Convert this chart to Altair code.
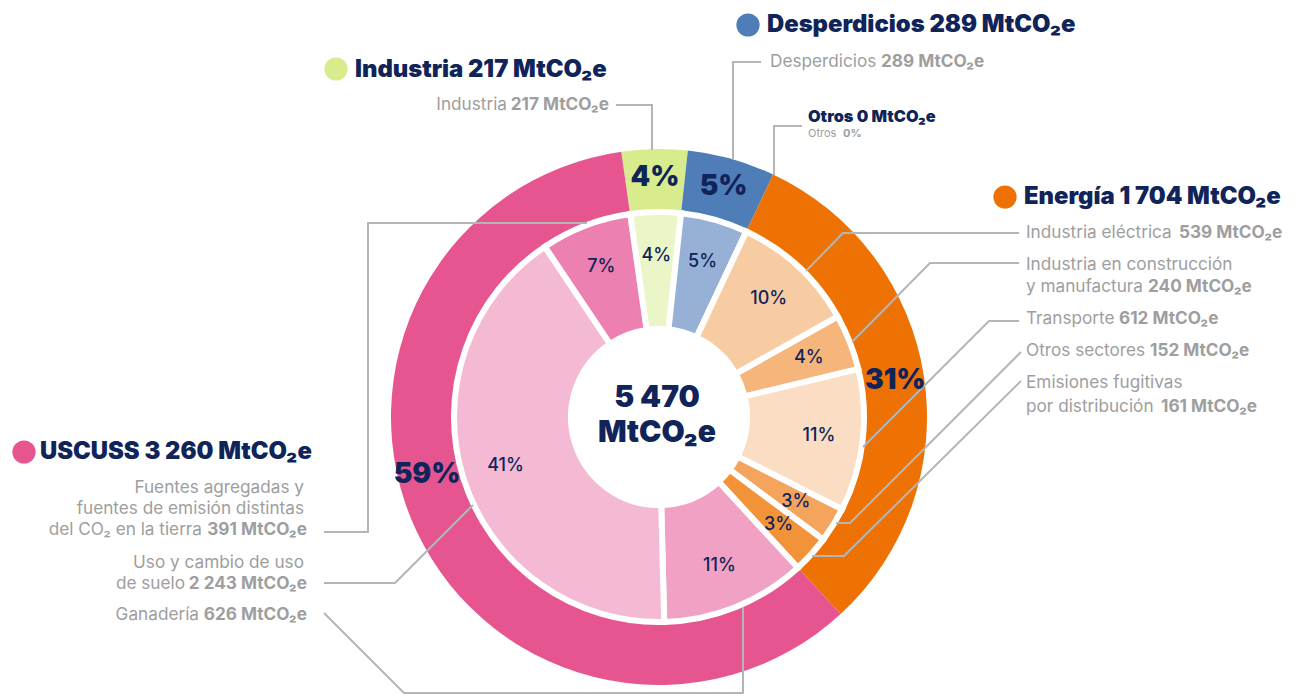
import math
import altair as alt
import pandas as pd

# ---------------- data ----------------
sectors = ["Industria", "Desperdicios", "Otros", "Energía", "USCUSS"]
sector_values = [217, 289, 0, 1704, 3260]
sector_pct = ["4%", "5%", "", "31%", "59%"]
sector_colors = ["#D8EC8E", "#4F7DB8", "#2E3A87", "#EE7203", "#E65590"]

subsectors = [
    "Industria", "Desperdicios", "Industria eléctrica",
    "Industria en construcción y manufactura", "Transporte", "Otros sectores",
    "Emisiones fugitivas por distribución", "Ganadería",
    "Uso y cambio de uso de suelo",
    "Fuentes agregadas y fuentes de emisión distintas del CO₂ en la tierra",
]
sub_values = [217, 289, 539, 240, 612, 152, 161, 626, 2243, 391]
sub_pct = ["4%", "5%", "10%", "4%", "11%", "3%", "3%", "11%", "41%", "7%"]
sub_colors = ["#EAF5C8", "#96B0D6", "#F8CCA3", "#F5B57B", "#FADDC2",
              "#F4A45C", "#F29339", "#F1A2C4", "#F5BAD3", "#EC80B0"]

total_label = ["5 470", "MtCO₂e"]

headlines = ["Industria 217 MtCO₂e", "Desperdicios 289 MtCO₂e",
             "Energía 1 704 MtCO₂e", "USCUSS 3 260 MtCO₂e"]
headline_colors = ["#D8EC8E", "#4F7DB8", "#EE7203", "#E65590"]

# label pieces (normal part / bold part)
left_normal = ["Desperdicios", "Industria eléctrica", "Industria en construcción",
               "y manufactura", "Transporte", "Otros sectores",
               "Emisiones fugitivas", "por distribución"]
left_bold = ["289 MtCO₂e", "539 MtCO₂e", "240 MtCO₂e", "612 MtCO₂e",
             "152 MtCO₂e", "161 MtCO₂e"]
right_normal = ["Industria", "Fuentes agregadas y", "fuentes de emisión distintas",
                "del CO₂ en la tierra", "Uso y cambio de uso", "de suelo", "Ganadería"]
right_bold = ["217 MtCO₂e", "391 MtCO₂e", "2 243 MtCO₂e", "626 MtCO₂e"]
otros_title = "Otros 0 MtCO₂e"
otros_sub = ["Otros", "0%"]

# ---------------- layout (page pixels) ----------------
W, H = 1278, 688
CX, CY = 659 - 8, 417 - 8
TOTAL = sum(sector_values)
START = math.radians(-8.1)
NAVY = "#10245A"
GRAY = "#9E9E9E"
LINE = "#B5B5B5"
FONT = "Inter"
LABEL_SIZE = 17.2

headline_xy = [(355, 70), (767, 25), (1024, 197), (40, 452)]
circle_xy = [(336, 69), (748, 25), (1005, 197), (24, 452)]
left_normal_xy = [(770, 62), (1026, 233), (1026, 265), (1026, 287), (1026, 319),
                  (1026, 351), (1026, 383), (1026, 407)]
left_bold_xy = [(881, 62), (1179, 233), (1148, 287), (1119, 319), (1150, 351), (1161, 407)]
right_normal_xy = [(507, 105), (304, 488), (304, 509), (202, 530), (304, 563),
                   (185, 584), (199, 615)]
right_bold_xy = [(609, 105), (307, 530), (307, 584), (307, 615)]
leaders = [
    [(616, 105), (652, 105), (652, 150)],
    [(761, 62), (733, 62), (733, 159)],
    [(802, 126), (774, 126), (774, 175)],
    [(1019, 233), (843, 233), (806, 271)],
    [(1019, 263), (930, 263), (852, 342)],
    [(1019, 321), (989, 321), (863, 447)],
    [(1021, 352), (850, 523), (836, 523)],
    [(1021, 381), (844, 556), (812, 556)],
    [(324, 613), (404, 693), (743, 693), (743, 607)],
    [(324, 583), (395, 583), (473, 505)],
    [(324, 532), (368, 532), (368, 223), (587, 223)],
]
outer_label_shift = {"USCUSS": 173}

# ---------------- tables ----------------
def ring(names, values, pcts, colors, shift=None):
    rows, acc = [], 0
    for n, v, p, c in zip(names, values, pcts, colors):
        mid = acc + v / 2
        rows.append(dict(name=n, value=v, start=acc, end=acc + v, mid=mid,
                         label_at=mid + (shift or {}).get(n, 0), pct=p, color=c))
        acc += v
    return pd.DataFrame(rows)

outer_df = ring(sectors, sector_values, sector_pct, sector_colors, outer_label_shift)
outer_df = outer_df[outer_df.value > 0]
inner_df = ring(subsectors, sub_values, sub_pct, sub_colors)

def pts(texts, xy):
    return pd.DataFrame([dict(t=t, x=p[0], y=p[1]) for t, p in zip(texts, xy)])

lead_rows = []
for i, poly in enumerate(leaders):
    for j, (x, y) in enumerate(poly):
        lead_rows.append(dict(id=i, seq=j, x=x, y=y))
lead_df = pd.DataFrame(lead_rows)

theta_scale = alt.Scale(domain=[0, TOTAL], range=[START, START + 2 * math.pi])
xs = alt.Scale(domain=[8, 8 + W], range=[0, W], nice=False, zero=False)
ys = alt.Scale(domain=[8, 8 + H], range=[0, H], nice=False, zero=False)
X = alt.X("x:Q", scale=xs, axis=None)
Y = alt.Y("y:Q", scale=ys, axis=None)

outer = alt.Chart(outer_df).mark_arc(radius=268, radius2=206).encode(
    theta=alt.Theta("start:Q", scale=theta_scale, stack=False),
    theta2="end:Q",
    color=alt.Color("color:N", scale=None),
    x=alt.value(CX), y=alt.value(CY),
)
inner = alt.Chart(inner_df).mark_arc(radius=205, radius2=88, stroke="white",
                                     strokeWidth=6).encode(
    theta=alt.Theta("start:Q", scale=theta_scale, stack=False),
    theta2="end:Q",
    color=alt.Color("color:N", scale=None),
    x=alt.value(CX), y=alt.value(CY),
)
outer_lbl = alt.Chart(outer_df).mark_text(
    radius=239, font=FONT, fontSize=28, fontWeight=900, color=NAVY, baseline="middle"
).encode(
    theta=alt.Theta("label_at:Q", scale=theta_scale, stack=False),
    text="pct:N", x=alt.value(CX), y=alt.value(CY),
)
inner_lbl = alt.Chart(inner_df).mark_text(
    radius=161, font=FONT, fontSize=18, fontWeight=500, color=NAVY, baseline="middle"
).encode(
    theta=alt.Theta("mid:Q", scale=theta_scale, stack=False),
    text="pct:N", x=alt.value(CX), y=alt.value(CY),
)

lines = alt.Chart(lead_df).mark_line(color=LINE, strokeWidth=2).encode(
    x=X, y=Y, detail="id:N", order="seq:Q")

center = alt.Chart(pts(total_label, [(657, 398), (657, 433)])).mark_text(
    font=FONT, fontSize=30, fontWeight=900, color=NAVY, align="center", baseline="middle"
).encode(x=X, y=Y, text="t:N")

circ_df = pd.DataFrame([dict(x=p[0], y=p[1], color=c) for p, c in zip(circle_xy, headline_colors)])
circles = alt.Chart(circ_df).mark_circle(size=540, opacity=1).encode(
    x=X, y=Y, color=alt.Color("color:N", scale=None))

heads = alt.Chart(pts(headlines, headline_xy)).mark_text(
    font=FONT, fontSize=23.8, fontWeight=900, color=NAVY, align="left", baseline="middle"
).encode(x=X, y=Y, text="t:N")

ln = alt.Chart(pts(left_normal, left_normal_xy)).mark_text(
    font=FONT, fontSize=LABEL_SIZE, fontWeight=400, color=GRAY, align="left", baseline="middle"
).encode(x=X, y=Y, text="t:N")
lb = alt.Chart(pts(left_bold, left_bold_xy)).mark_text(
    font=FONT, fontSize=LABEL_SIZE, fontWeight=700, color=GRAY, align="left", baseline="middle"
).encode(x=X, y=Y, text="t:N")
rn = alt.Chart(pts(right_normal, right_normal_xy)).mark_text(
    font=FONT, fontSize=LABEL_SIZE, fontWeight=400, color=GRAY, align="right", baseline="middle"
).encode(x=X, y=Y, text="t:N")
rb = alt.Chart(pts(right_bold, right_bold_xy)).mark_text(
    font=FONT, fontSize=LABEL_SIZE, fontWeight=700, color=GRAY, align="right", baseline="middle"
).encode(x=X, y=Y, text="t:N")

otros_t = alt.Chart(pts([otros_title], [(808, 117)])).mark_text(
    font=FONT, fontSize=16.3, fontWeight=900, color=NAVY, align="left", baseline="middle"
).encode(x=X, y=Y, text="t:N")
otros_n = alt.Chart(pts([otros_sub[0]], [(808, 134)])).mark_text(
    font=FONT, fontSize=11, fontWeight=400, color=GRAY, align="left", baseline="middle"
).encode(x=X, y=Y, text="t:N")
otros_b = alt.Chart(pts([otros_sub[1]], [(843, 134)])).mark_text(
    font=FONT, fontSize=11, fontWeight=700, color=GRAY, align="left", baseline="middle"
).encode(x=X, y=Y, text="t:N")

chart = alt.layer(
    outer, inner, lines, outer_lbl, inner_lbl, center, circles, heads,
    ln, lb, rn, rb, otros_t, otros_n, otros_b,
).properties(
    width=W, height=H, padding=0, autosize=alt.AutoSizeParams(type="none")
).configure_view(stroke=None)

chart.save("out.html", embed_options={"renderer": "svg", "actions": False})
